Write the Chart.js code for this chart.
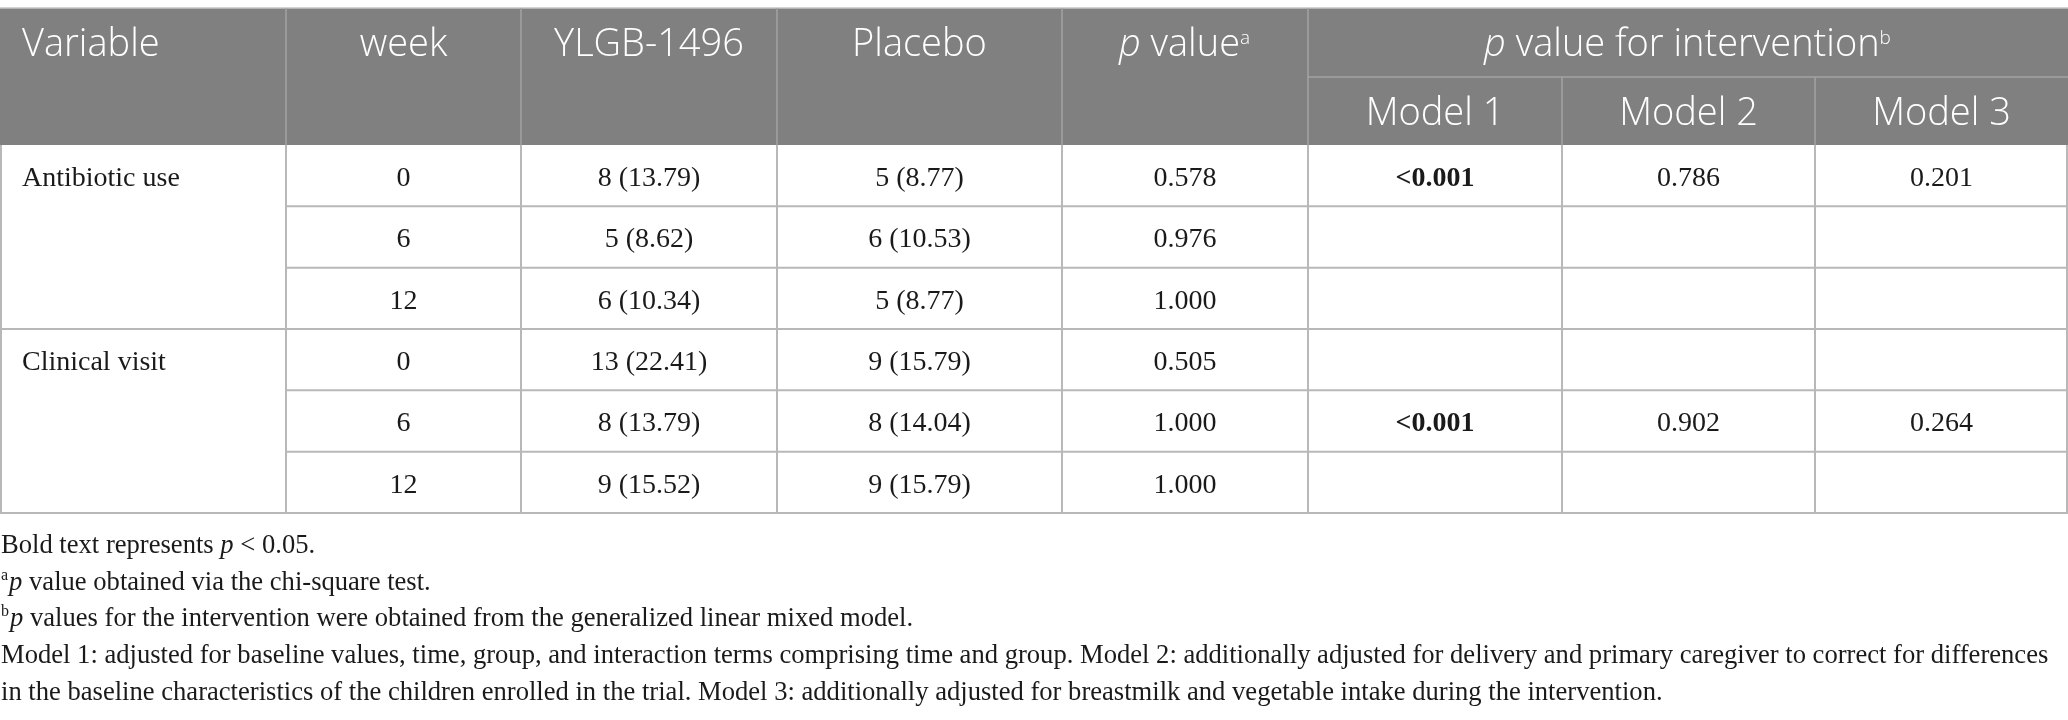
<!DOCTYPE html>
<html>
<head>
<meta charset="utf-8">
<title>Antibiotic use and clinical visits by group</title>
<script src="https://cdn.jsdelivr.net/npm/chart.js@4.4.1/dist/chart.umd.min.js"></script>
<style>
    html, body { margin: 0; padding: 0; background: #ffffff; }
    #wrap { width: 2068px; height: 720px; position: relative; }
</style>
</head>
<body>
<div id="wrap"><canvas id="table"></canvas></div>
<script>
// Table values
const variableNames = ['Antibiotic use', 'Clinical visit'];
const weekLabels = ['0', '6', '12', '0', '6', '12'];
const ylgbValues = ['8 (13.79)', '5 (8.62)', '6 (10.34)', '13 (22.41)', '8 (13.79)', '9 (15.52)'];
const placeboValues = ['5 (8.77)', '6 (10.53)', '5 (8.77)', '9 (15.79)', '8 (14.04)', '9 (15.79)'];
const chiSquareP = ['0.578', '0.976', '1.000', '0.505', '1.000', '1.000'];
const model1P = ['<0.001', '', '', '', '<0.001', ''];
const model2P = ['0.786', '', '', '', '0.902', ''];
const model3P = ['0.201', '', '', '', '0.264', ''];

// Header texts
const columnHeaders = ['Variable', 'week', 'YLGB-1496', 'Placebo'];
const modelHeaders = ['Model 1', 'Model 2', 'Model 3'];
const pValueHeader = [['p', 'i'], [' value'], ['a', 'sup']];
const interventionHeader = [['p', 'i'], [' value for intervention'], ['b', 'sup']];

// Footnotes, as runs of [text, style]
const footnotes = [
    [['Bold text represents '], ['p', 'i'], [' < 0.05.']],
    [['a', 'sup'], ['p', 'i'], [' value obtained via the chi-square test.']],
    [['b', 'sup'], ['p', 'i'], [' values for the intervention were obtained from the generalized linear mixed model.']],
    [['Model 1: adjusted for baseline values, time, group, and interaction terms comprising time and group. Model 2: additionally adjusted for delivery and primary caregiver to correct for differences']],
    [['in the baseline characteristics of the children enrolled in the trial. Model 3: additionally adjusted for breastmilk and vegetable intake during the intervention.']]
];

// Layout (in scale units, the scales span the whole canvas)
const layout = {
    width: 2068,
    height: 720,
    colWidths: [286, 235, 256, 285, 246, 254, 253, 253],
    headerTop: 8,
    headerSplit: 77,
    headerBottom: 145,
    rowHeight: 61.33,
    rowsPerGroup: 3,
    cellPadLeft: 22,
    footTop: 553,
    footStep: 36.7
};

const headFont = { family: '"Open Sans", "Noto Sans", sans-serif', size: 38, weight: '300', sup: 0.5, raise: 0.32 };
const bodyFont = { family: '"Liberation Serif", "Times New Roman", serif', size: 28, weight: 'normal', sup: 0.6, raise: 0.38 };
const footFont = { family: '"Liberation Serif", "Times New Roman", serif', size: 26.6, weight: 'normal', sup: 0.6, raise: 0.38 };

const colors = {
    headerFill: '#7f807f',
    headerLine: '#a3a3a3',
    topLine: '#c4c4c4',
    bodyLine: '#b8b8b8',
    headerText: '#ffffff',
    bodyText: '#1a1a1a'
};

function fontString(f, style) {
    let size = f.size;
    let weight = f.weight;
    if (style === 'sup') size = Math.round(f.size * f.sup);
    if (style === 'b') weight = 'bold';
    return (style === 'i' ? 'italic ' : '') + weight + ' ' + size + 'px ' + f.family;
}

// Draw text runs (italic / bold / superscript) from x, or centred on x
function drawRuns(ctx, runs, x, y, align, f, color) {
    ctx.save();
    ctx.fillStyle = color;
    ctx.textBaseline = 'alphabetic';
    ctx.textAlign = 'left';
    let total = 0;
    const widths = runs.map(r => {
        ctx.font = fontString(f, r[1]);
        const w = ctx.measureText(r[0]).width + (r[1] === 'sup' ? 1 : 0);
        total += w;
        return w;
    });
    let cx = align === 'center' ? x - total / 2 : x;
    runs.forEach((r, i) => {
        ctx.font = fontString(f, r[1]);
        const dy = r[1] === 'sup' ? -f.size * f.raise : 0;
        ctx.fillText(r[0], cx, y + dy);
        cx += widths[i];
    });
    ctx.restore();
}

function isSignificant(v) {
    return v.startsWith('<') || (v !== '' && parseFloat(v) < 0.05);
}

const tablePlugin = {
    id: 'tableDraw',
    afterDraw(chart) {
        const ctx = chart.ctx;
        const X = v => chart.scales.x.getPixelForValue(v);
        const Y = v => chart.scales.y.getPixelForValue(v);

        const colEdges = [0];
        layout.colWidths.forEach(w => colEdges.push(colEdges[colEdges.length - 1] + w));
        const rowCount = weekLabels.length;
        const rowEdges = [];
        for (let i = 0; i <= rowCount; i++) rowEdges.push(layout.headerBottom + i * layout.rowHeight);
        const colMid = i => (colEdges[i] + colEdges[i + 1]) / 2;
        const rowMid = i => (rowEdges[i] + rowEdges[i + 1]) / 2;
        const last = colEdges.length - 1;

        function line(x1, y1, x2, y2, color, width) {
            ctx.save();
            ctx.strokeStyle = color;
            ctx.lineWidth = width;
            ctx.beginPath();
            ctx.moveTo(X(x1), Y(y1));
            ctx.lineTo(X(x2), Y(y2));
            ctx.stroke();
            ctx.restore();
        }

        // Header background
        ctx.save();
        ctx.fillStyle = colors.headerFill;
        ctx.fillRect(X(0), Y(layout.headerTop), X(layout.width) - X(0), Y(layout.headerBottom) - Y(layout.headerTop));
        ctx.restore();
        line(0, layout.headerTop, layout.width, layout.headerTop, colors.topLine, 1.5);

        // Header grid
        for (let i = 1; i <= 5; i++) {
            line(colEdges[i], layout.headerTop, colEdges[i], layout.headerBottom, colors.headerLine, 1.5);
        }
        line(colEdges[5], layout.headerSplit, colEdges[last], layout.headerSplit, colors.headerLine, 1.5);
        for (let i = 6; i < last; i++) {
            line(colEdges[i], layout.headerSplit, colEdges[i], layout.headerBottom, colors.headerLine, 1.5);
        }

        // Body grid
        for (let i = 0; i <= last; i++) {
            const x = i === 0 ? 1 : (i === last ? colEdges[i] - 1 : colEdges[i]);
            line(x, layout.headerBottom, x, rowEdges[rowCount], colors.bodyLine, 2);
        }
        for (let r = 1; r <= rowCount; r++) {
            const groupEnd = r % layout.rowsPerGroup === 0;
            line(groupEnd ? colEdges[0] : colEdges[1], rowEdges[r], colEdges[last], rowEdges[r], colors.bodyLine, 2);
        }

        // Header text
        const h1 = 56, h2 = 125;
        drawRuns(ctx, [[columnHeaders[0]]], X(colEdges[0] + layout.cellPadLeft), Y(h1), 'left', headFont, colors.headerText);
        for (let i = 1; i < columnHeaders.length; i++) {
            drawRuns(ctx, [[columnHeaders[i]]], X(colMid(i)), Y(h1), 'center', headFont, colors.headerText);
        }
        drawRuns(ctx, pValueHeader, X(colMid(4)), Y(h1), 'center', headFont, colors.headerText);
        drawRuns(ctx, interventionHeader, X((colEdges[5] + colEdges[last]) / 2), Y(h1), 'center', headFont, colors.headerText);
        modelHeaders.forEach((m, i) => {
            drawRuns(ctx, [[m]], X(colMid(5 + i)), Y(h2), 'center', headFont, colors.headerText);
        });

        // Body text
        const base = 10.5;
        variableNames.forEach((name, g) => {
            drawRuns(ctx, [[name]], X(colEdges[0] + layout.cellPadLeft), Y(rowMid(g * layout.rowsPerGroup) + base), 'left', bodyFont, colors.bodyText);
        });
        const bodyCols = [weekLabels, ylgbValues, placeboValues, chiSquareP, model1P, model2P, model3P];
        bodyCols.forEach((col, c) => {
            col.forEach((v, r) => {
                if (v === '') return;
                const style = c >= 4 && isSignificant(v) ? 'b' : undefined;
                drawRuns(ctx, [[v, style]], X(colMid(c + 1)), Y(rowMid(r) + base), 'center', bodyFont, colors.bodyText);
            });
        });

        // Footnotes
        footnotes.forEach((runs, i) => {
            drawRuns(ctx, runs, X(1), Y(layout.footTop + i * layout.footStep), 'left', footFont, colors.bodyText);
        });
    }
};

new Chart(document.getElementById('table'), {
    type: 'scatter',
    data: { datasets: [] },
    options: {
        responsive: true,
        maintainAspectRatio: false,
        animation: false,
        events: [],
        layout: { padding: 0 },
        plugins: { legend: { display: false }, tooltip: { enabled: false } },
        scales: {
            x: { type: 'linear', min: 0, max: layout.width, display: false },
            y: { type: 'linear', min: 0, max: layout.height, reverse: true, display: false }
        }
    },
    plugins: [tablePlugin]
});
</script>
</body>
</html>
